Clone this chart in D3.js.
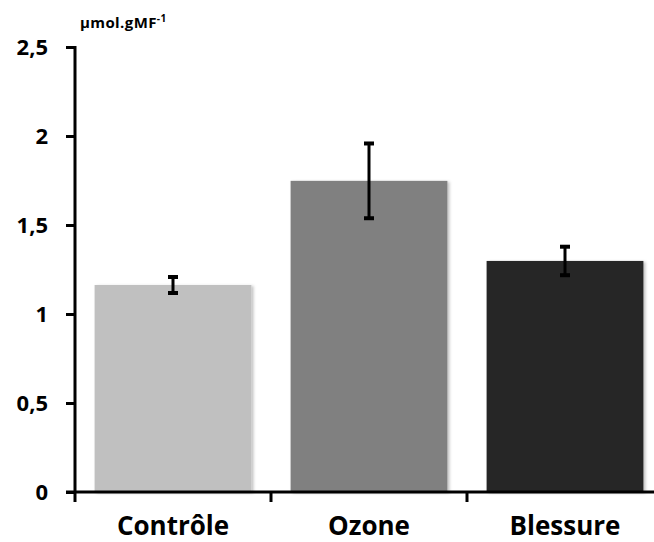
<!DOCTYPE html>
<html>
<head>
<meta charset="utf-8">
<script src="https://cdn.jsdelivr.net/npm/d3@7"></script>
<style>
  body { margin: 0; background: #fff; }
  text { font-family: "Open Sans", "DejaVu Sans", sans-serif; font-weight: bold; fill: #000; }
</style>
</head>
<body>
<div id="chart"></div>
<script>
// values
const categories = ["Contrôle", "Ozone", "Blessure"];
const means = [1.163, 1.748, 1.298];
const errors = [0.045, 0.21, 0.08];
const barColors = ["#c0c0c0", "#808080", "#262626"];
const yTicks = [0, 0.5, 1, 1.5, 2, 2.5];
const yTickLabels = ["0", "0,5", "1", "1,5", "2", "2,5"];
const unitLabel = "µmol.gMF";
const unitExp = "-1";

const width = 654;
const height = 542;
const marginLeft = 75;
const plotBottom = 492;
const plotTop = 47;

const svg = d3.select("#chart").append("svg")
    .attr("width", width)
    .attr("height", height);

// soft shadow on the bars
const defs = svg.append("defs");
defs.append("filter").attr("id", "shadow")
    .attr("x", "-5%").attr("y", "-5%").attr("width", "115%").attr("height", "115%")
  .append("feDropShadow")
    .attr("dx", 2).attr("dy", 1)
    .attr("stdDeviation", 1.5)
    .attr("flood-color", "#000")
    .attr("flood-opacity", 0.25);

const x = d3.scaleBand()
    .domain(categories)
    .range([marginLeft, marginLeft + 588])
    .paddingInner(0.2)
    .paddingOuter(0.1);

const y = d3.scaleLinear()
    .domain([0, 2.5])
    .range([plotBottom, plotTop]);

// bars
svg.selectAll(".bar")
  .data(categories)
  .join("rect")
    .attr("class", "bar")
    .attr("x", d => x(d))
    .attr("width", x.bandwidth())
    .attr("y", (d, i) => y(means[i]))
    .attr("height", (d, i) => y(0) - y(means[i]))
    .attr("fill", (d, i) => barColors[i])
    .attr("filter", "url(#shadow)");

// error bars
const eb = svg.selectAll(".err")
  .data(categories)
  .join("g")
    .attr("class", "err")
    .attr("transform", d => `translate(${x(d) + x.bandwidth() / 2},0)`);
eb.append("line")
    .attr("y1", (d, i) => y(means[i] + errors[i]))
    .attr("y2", (d, i) => y(means[i] - errors[i]))
    .attr("stroke", "#000").attr("stroke-width", 3);
eb.selectAll(".cap")
  .data((d, i) => [means[i] + errors[i], means[i] - errors[i]])
  .join("line")
    .attr("class", "cap")
    .attr("x1", -5).attr("x2", 5)
    .attr("y1", v => y(v)).attr("y2", v => y(v))
    .attr("stroke", "#000").attr("stroke-width", 4);

// y axis
const yAxis = svg.append("g")
    .attr("transform", `translate(${marginLeft},0)`)
    .call(d3.axisLeft(y)
        .tickValues(yTicks)
        .tickFormat((d, i) => yTickLabels[i])
        .tickSize(9)
        .tickSizeOuter(0)
        .tickPadding(18));
yAxis.select(".domain").attr("stroke-width", 3).attr("d", `M0,${y(2.5) - 1}V${plotBottom + 1}`);
yAxis.selectAll(".tick line").attr("stroke-width", 3);
yAxis.selectAll(".tick text")
    .attr("font-size", 22)
    .attr("font-family", "\"Open Sans\", sans-serif")
    .attr("font-weight", "bold")
    .attr("fill", "#000");

// x axis: line with ticks between categories
const xAxis = svg.append("g");
xAxis.append("line")
    .attr("x1", marginLeft - 9).attr("x2", width)
    .attr("y1", plotBottom).attr("y2", plotBottom)
    .attr("stroke", "#000").attr("stroke-width", 3);
const step = x.step();
const boundaries = categories.map(d => x(d) - x.paddingOuter() * step);
xAxis.selectAll(".xtick")
  .data(boundaries)
  .join("line")
    .attr("class", "xtick")
    .attr("x1", d => d).attr("x2", d => d)
    .attr("y1", plotBottom).attr("y2", plotBottom + 10)
    .attr("stroke", "#000").attr("stroke-width", 3);

xAxis.selectAll(".xlabel")
  .data(categories)
  .join("text")
    .attr("class", "xlabel")
    .attr("x", d => x(d) + x.bandwidth() / 2)
    .attr("y", 535)
    .attr("text-anchor", "middle")
    .attr("font-size", 26)
    .text(d => d);

// unit label
const unit = svg.append("text")
    .attr("x", 80)
    .attr("y", 28)
    .attr("font-size", 15)
    .attr("letter-spacing", 0.4);
unit.append("tspan").text(unitLabel);
unit.append("tspan")
    .attr("font-size", 10)
    .attr("dy", -6)
    .text(unitExp);
</script>
</body>
</html>
